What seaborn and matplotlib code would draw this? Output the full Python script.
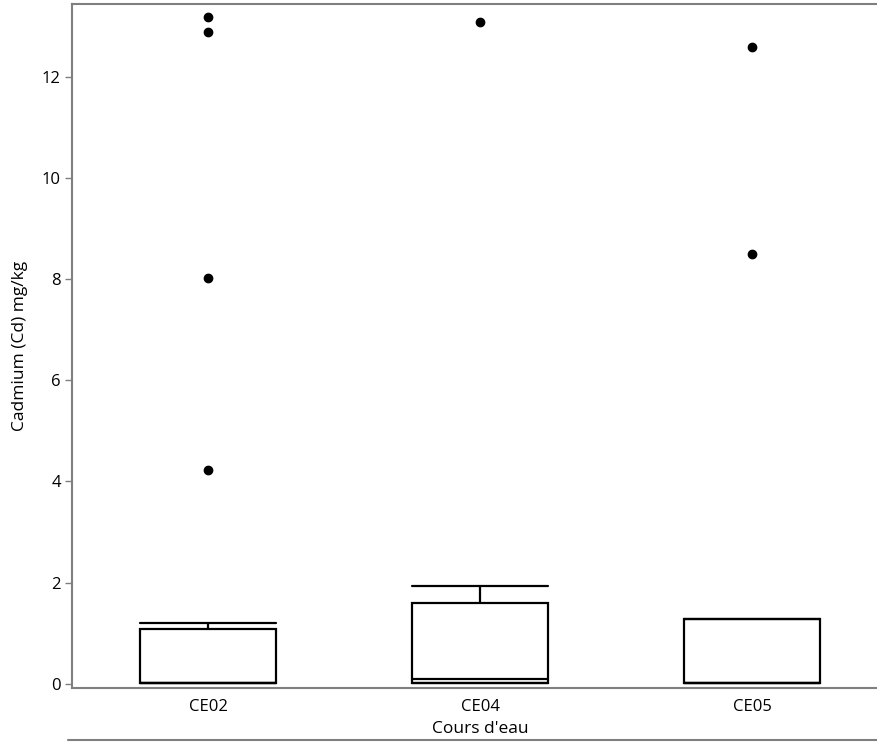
import numpy as np
import pandas as pd
import matplotlib
matplotlib.use("Agg")
import matplotlib.pyplot as plt
from matplotlib.lines import Line2D
import seaborn as sns

# sample values per river (Cd, mg/kg)
ce02 = [0.02, 0.02, 0.02, 0.02, 0.02, 0.02, 0.02, 0.02, 0.02, 0.02, 0.02,
        0.3, 0.5, 0.8, 1.0, 1.08, 1.2, 4.22, 8.02, 12.9, 13.2]
ce04 = [0.02, 0.02, 0.02, 0.05, 0.1, 0.8, 1.6, 1.94, 13.1]
ce05 = [0.02, 0.02, 0.02, 0.02, 0.02, 0.6, 1.28, 8.5, 12.6]
categories = ["CE02", "CE04", "CE05"]

df = pd.DataFrame({
    "cours": ["CE02"] * len(ce02) + ["CE04"] * len(ce04) + ["CE05"] * len(ce05),
    "cd": ce02 + ce04 + ce05,
})

sns.set_style("white")
plt.rcParams['font.family'] = ['Open Sans', 'DejaVu Sans']
plt.rcParams['text.color'] = 'black'
plt.rcParams['axes.labelcolor'] = 'black'
plt.rcParams['xtick.color'] = 'black'
plt.rcParams['ytick.color'] = 'black'

fig = plt.figure(figsize=(8.77, 7.42), dpi=100)
ax = fig.add_axes([72 / 877, 54 / 742, (888 - 72) / 877, (688 - 4) / 742])

sns.boxplot(data=df, x="cours", y="cd", order=categories, ax=ax,
            width=0.5, whis=1.5, fill=True, color="white",
            linecolor="black", linewidth=1.6, fliersize=6,
            capwidths=0.5,
            flierprops=dict(marker="o", markerfacecolor="black",
                            markeredgecolor="black"),
            boxprops=dict(facecolor="white", edgecolor="black"),
            medianprops=dict(color="black"))

ax.set_xlim(-0.5, 2.5)
ax.set_ylim(-0.087, 13.45)
ax.set_yticks([0, 2, 4, 6, 8, 10, 12])
ax.set_yticklabels(["0", "2", "4", "6", "8", "10", "12"])

for s in ["left", "top", "bottom"]:
    ax.spines[s].set_color("#7f7f7f")
    ax.spines[s].set_linewidth(1.5)
ax.spines["right"].set_visible(False)

ax.tick_params(axis="y", length=5, width=1, color="#7f7f7f", labelsize=12,
               labelcolor="black", pad=3, left=True)
ax.tick_params(axis="x", length=0, labelsize=12, labelcolor="black", pad=8)

ax.set_xlabel("Cours d'eau", fontsize=12.5, labelpad=4, color="black")
ax.set_ylabel("Cadmium (Cd) mg/kg", fontsize=12.5, labelpad=10, color="black")

fig.add_artist(Line2D([68 / 877, 1.0], [2 / 742, 2 / 742], color="#7f7f7f",
                      linewidth=1.5, transform=fig.transFigure))

plt.savefig("out.png", dpi=100)
print('OK')
